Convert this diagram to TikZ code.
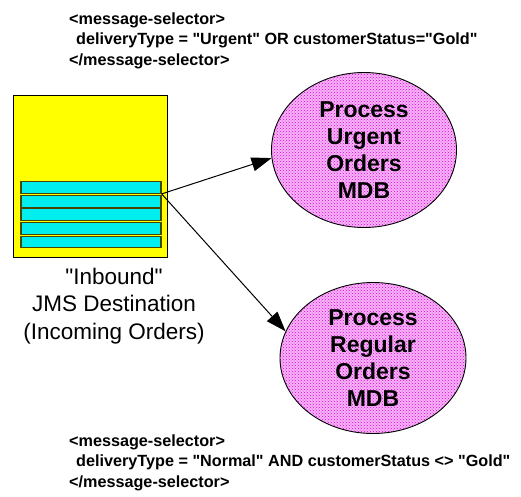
\documentclass[tikz,border=0pt]{standalone}
\usepackage{fontspec}
\setmainfont{Liberation Sans}[Ligatures=TeXOff]
\usetikzlibrary{shapes.geometric,arrows.meta,patterns}
\definecolor{boxyellow}{RGB}{255,255,0}
\definecolor{barcyan}{RGB}{0,238,238}
\definecolor{barline}{RGB}{70,70,0}
\definecolor{mdbpink}{RGB}{246,180,246}
\definecolor{mdbdots}{RGB}{225,0,225}
\begin{document}
\begin{tikzpicture}[x=1pt,y=-1pt,
  queuebox/.style={draw=black,line width=1pt,fill=boxyellow,minimum width=154pt,minimum height=162pt,inner sep=0pt},
  qbar/.style={draw=barline,line width=1.3pt,fill=barcyan,minimum width=140pt,minimum height=11.5pt,inner sep=0pt},
  mdb/.style={ellipse,draw=black,line width=0.9pt,preaction={fill=mdbpink},pattern=crosshatch dots,pattern color=mdbdots,
    inner sep=0pt,font=\bfseries\fontsize{23}{27}\selectfont,align=center},
  selector/.style={anchor=base west,inner sep=0pt,align=left,font=\bfseries\fontsize{16.2}{20.5}\selectfont},
  flow/.style={draw=black,line width=1pt,-{Triangle[length=20pt,width=14pt]}}
]
\useasboundingbox (0,0) rectangle (521,496);

\node[selector] (topsel) at (69,65) {<message-selector>\\\hspace*{7pt}deliveryType = "Urgent" OR customerStatus="Gold"\\</message-selector>};

\node[queuebox] (queue) at (90,176) {};
\node[qbar] (bar1) at (91,187.5) {};
\node[qbar] (bar2) at (91,201.5) {};
\node[qbar] (bar3) at (91,214.5) {};
\node[qbar] (bar4) at (91,228.5) {};
\node[qbar] (bar5) at (91,242) {};

\node[align=center,inner sep=0pt,font=\fontsize{22.5}{27.5}\selectfont] (qlabel) at (114,306) {"Inbound"\\JMS Destination\\(Incoming Orders)};

\node[mdb,minimum width=185pt,minimum height=155pt] (urgent) at (364,150) {Process\\Urgent\\Orders\\MDB};
\node[mdb,minimum width=186pt,minimum height=151pt] (regular) at (373,358) {Process\\Regular\\Orders\\MDB};

\coordinate (src) at (bar1.south east);
\draw[flow] (src) -- (urgent.185);
\draw[flow] (src) -- (regular.163);

\node[selector] (botsel) at (69,487) {<message-selector>\\\hspace*{7pt}deliveryType = "Normal" AND customerStatus <> "Gold"\\</message-selector>};
\end{tikzpicture}
\end{document}
